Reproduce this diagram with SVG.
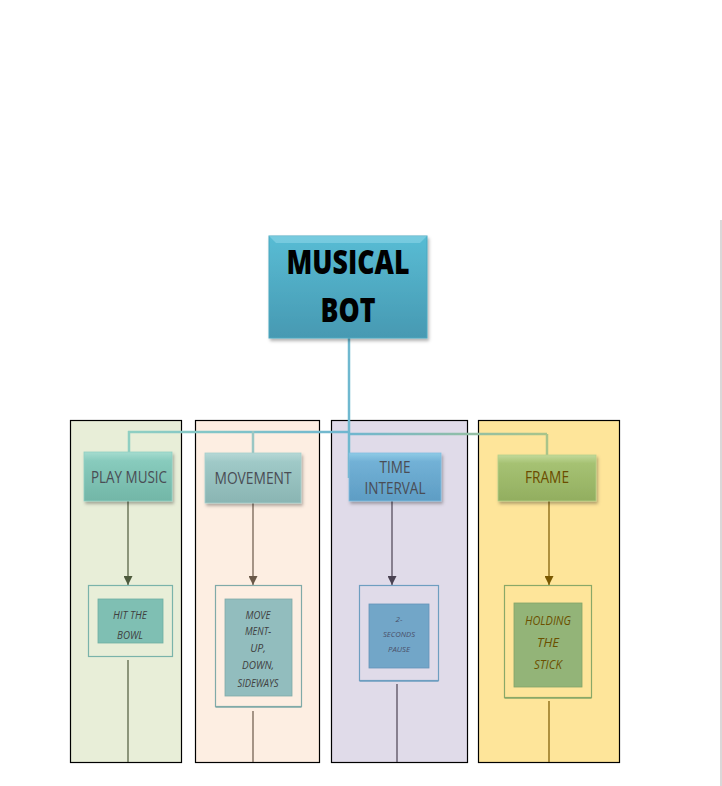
<svg xmlns="http://www.w3.org/2000/svg" width="722" height="786" viewBox="0 0 722 786">
<defs>
<linearGradient id="gMain" x1="0" y1="0" x2="0" y2="1"><stop offset="0" stop-color="#58bcd4"/><stop offset="1" stop-color="#4799b2"/></linearGradient>
<linearGradient id="gPlay" x1="0" y1="0" x2="0" y2="1"><stop offset="0" stop-color="#a6dccf"/><stop offset="0.18" stop-color="#88cbbd"/><stop offset="1" stop-color="#72b6a7"/></linearGradient>
<linearGradient id="gMove" x1="0" y1="0" x2="0" y2="1"><stop offset="0" stop-color="#b6d8d6"/><stop offset="0.18" stop-color="#9fc9c7"/><stop offset="1" stop-color="#8ab5b3"/></linearGradient>
<linearGradient id="gTime" x1="0" y1="0" x2="0" y2="1"><stop offset="0" stop-color="#8fcbe6"/><stop offset="0.18" stop-color="#72b1d6"/><stop offset="1" stop-color="#5e9dc4"/></linearGradient>
<linearGradient id="gFrame" x1="0" y1="0" x2="0" y2="1"><stop offset="0" stop-color="#c2d99a"/><stop offset="0.18" stop-color="#a6c273"/><stop offset="1" stop-color="#92ae60"/></linearGradient>
<linearGradient id="gH" x1="128" y1="0" x2="349" y2="0" gradientUnits="userSpaceOnUse"><stop offset="0" stop-color="#8fcfc2"/><stop offset="1" stop-color="#6fb6d0"/></linearGradient>
<linearGradient id="gH2" x1="349" y1="0" x2="547" y2="0" gradientUnits="userSpaceOnUse"><stop offset="0" stop-color="#6fb6d0"/><stop offset="1" stop-color="#a9c48a"/></linearGradient>
<filter id="sh" x="-10%" y="-10%" width="125%" height="130%"><feDropShadow dx="1.5" dy="2.5" stdDeviation="1.5" flood-color="#000" flood-opacity="0.3"/></filter>
<marker id="a1" viewBox="0 0 10 10" refX="10" refY="5" markerWidth="9" markerHeight="9" markerUnits="userSpaceOnUse" orient="auto"><path d="M0,0 L10,5 L0,10 z" fill="#4d5a3c"/></marker>
<marker id="a2" viewBox="0 0 10 10" refX="10" refY="5" markerWidth="9" markerHeight="9" markerUnits="userSpaceOnUse" orient="auto"><path d="M0,0 L10,5 L0,10 z" fill="#6a5848"/></marker>
<marker id="a3" viewBox="0 0 10 10" refX="10" refY="5" markerWidth="9" markerHeight="9" markerUnits="userSpaceOnUse" orient="auto"><path d="M0,0 L10,5 L0,10 z" fill="#4a4252"/></marker>
<marker id="a4" viewBox="0 0 10 10" refX="10" refY="5" markerWidth="9" markerHeight="9" markerUnits="userSpaceOnUse" orient="auto"><path d="M0,0 L10,5 L0,10 z" fill="#7a5800"/></marker>
</defs>
<style>
.col{stroke:#000;stroke-width:1.2}
.t2{font-family:"Open Sans","Liberation Sans",sans-serif;font-size:16px;fill:#4a4d55;text-anchor:middle}
.t3{font-family:"Open Sans","Liberation Sans",sans-serif;font-style:italic;fill:#404040;text-anchor:middle}
.main{font-family:"Open Sans","Liberation Sans",sans-serif;font-weight:800;font-size:34px;fill:#000;text-anchor:middle}
</style>
<rect width="722" height="786" fill="#fff"/>
<line x1="721" y1="220" x2="721" y2="786" stroke="#c0c0c0" stroke-width="1.2"/>

<g id="columns">
<rect class="col" x="70.5" y="420.5" width="111" height="342" fill="#e8eed8"/>
<rect class="col" x="195.5" y="420.5" width="124" height="342" fill="#fdeee2"/>
<rect class="col" x="331.5" y="420.5" width="136" height="342" fill="#e0dbe9"/>
<rect class="col" x="478.5" y="420.5" width="141" height="342" fill="#fee59a"/>
</g>

<g id="connectors" fill="none">
<path d="M128,432 H349" stroke="url(#gH)" stroke-width="2.5"/>
<path d="M349,434 H547" stroke="url(#gH2)" stroke-width="2.5"/>
<line x1="129" y1="431" x2="129" y2="453" stroke="#8fcfc2" stroke-width="2.5"/>
<line x1="253" y1="431" x2="253" y2="454" stroke="#9ac7c4" stroke-width="2.5"/>
<line x1="349" y1="338" x2="349" y2="478" stroke="#6fb8cf" stroke-width="2.5"/>
<line x1="547" y1="434" x2="547" y2="456" stroke="#a9c48a" stroke-width="2.5"/>
<line x1="128" y1="501" x2="128" y2="585" stroke="#4d5a3c" stroke-width="1.2" marker-end="url(#a1)"/>
<line x1="253" y1="503" x2="253" y2="585" stroke="#6a5848" stroke-width="1.2" marker-end="url(#a2)"/>
<line x1="392" y1="501" x2="392" y2="585" stroke="#4a4252" stroke-width="1.2" marker-end="url(#a3)"/>
<line x1="549" y1="501" x2="549" y2="585" stroke="#7a5800" stroke-width="1.2" marker-end="url(#a4)"/>
<line x1="128" y1="660" x2="128" y2="762" stroke="#4d5a3c" stroke-width="1.2"/>
<line x1="253" y1="711" x2="253" y2="762" stroke="#6a5848" stroke-width="1.2"/>
<line x1="397" y1="684" x2="397" y2="762" stroke="#4a4252" stroke-width="1.2"/>
<line x1="549" y1="701" x2="549" y2="762" stroke="#7a5800" stroke-width="1.2"/>
</g>

<g id="musical-bot">
<rect x="269" y="236" width="158" height="102" fill="url(#gMain)" stroke="#4aa8c0" stroke-width="1" filter="url(#sh)"/>
<path d="M269,236 H427 L420,243 H276 Z" fill="#84d2e4" opacity="0.7"/>
<text class="main" x="348" y="274" textLength="123" lengthAdjust="spacingAndGlyphs">MUSICAL</text>
<text class="main" x="348" y="322" textLength="55" lengthAdjust="spacingAndGlyphs">BOT</text>
</g>

<g id="play-music">
<rect x="84" y="452" width="88" height="49" fill="url(#gPlay)" stroke="#8fcfc2" stroke-width="0.8" filter="url(#sh)"/>
<text class="t2" x="129" y="483" textLength="76" lengthAdjust="spacingAndGlyphs">PLAY MUSIC</text>
</g>
<g id="movement">
<rect x="205" y="453" width="96" height="50" fill="url(#gMove)" stroke="#a6cfcc" stroke-width="0.8" filter="url(#sh)"/>
<text class="t2" x="253" y="484" textLength="77" lengthAdjust="spacingAndGlyphs">MOVEMENT</text>
</g>
<g id="time-interval">
<rect x="349" y="453" width="92" height="48" fill="url(#gTime)" stroke="#7fbfe0" stroke-width="0.8" filter="url(#sh)"/>
<text class="t2" x="395" y="473" textLength="31" lengthAdjust="spacingAndGlyphs">TIME</text>
<text class="t2" x="395" y="494" textLength="61" lengthAdjust="spacingAndGlyphs">INTERVAL</text>
</g>
<g id="frame">
<rect x="498" y="455" width="98" height="46" fill="url(#gFrame)" stroke="#b5cf8a" stroke-width="0.8" filter="url(#sh)"/>
<text class="t2" x="547" y="483" textLength="44" lengthAdjust="spacingAndGlyphs" style="fill:#6b4c00">FRAME</text>
</g>

<g id="hit-the-bowl">
<rect x="88.5" y="585.5" width="84" height="71" fill="#e8eed8" stroke="#7ab3aa" stroke-width="1.2"/>
<rect x="98" y="599" width="65" height="44" fill="#7fbfb3" stroke="#6eaea2" stroke-width="0.8"/>
<text class="t3" x="130" y="619" font-size="11" textLength="34" lengthAdjust="spacingAndGlyphs">HIT THE</text>
<text class="t3" x="130" y="639" font-size="11" textLength="26" lengthAdjust="spacingAndGlyphs">BOWL</text>
</g>
<g id="movement-detail">
<rect x="215.5" y="585.5" width="86" height="121" fill="#fdeee2" stroke="#80aaa8" stroke-width="1.2"/>
<line x1="215.5" y1="707" x2="301.5" y2="707" stroke="#80aaa8" stroke-width="1.5"/>
<rect x="225" y="599" width="67" height="97" fill="#92bdbe" stroke="#80aaa8" stroke-width="0.8"/>
<text class="t3" x="258" y="619" font-size="10.5" textLength="25" lengthAdjust="spacingAndGlyphs">MOVE</text>
<text class="t3" x="258" y="635" font-size="10.5" textLength="26" lengthAdjust="spacingAndGlyphs">MENT-</text>
<text class="t3" x="258" y="652" font-size="10.5">UP,</text>
<text class="t3" x="258" y="669" font-size="10.5" textLength="32" lengthAdjust="spacingAndGlyphs">DOWN,</text>
<text class="t3" x="258" y="687" font-size="10.5" textLength="41" lengthAdjust="spacingAndGlyphs">SIDEWAYS</text>
</g>
<g id="pause">
<rect x="359.5" y="585.5" width="79" height="95" fill="#e0dbe9" stroke="#6e9ec0" stroke-width="1.2"/>
<line x1="359.5" y1="681" x2="438.5" y2="681" stroke="#6e9ec0" stroke-width="1.5"/>
<rect x="369" y="604" width="60" height="64" fill="#72a6c8" stroke="#6495b8" stroke-width="0.8"/>
<text class="t3" x="399" y="622" font-size="8" style="fill:#4a5068">2-</text>
<text class="t3" x="399" y="637" font-size="8" textLength="32" lengthAdjust="spacingAndGlyphs" style="fill:#4a5068">SECONDS</text>
<text class="t3" x="399" y="652" font-size="8" textLength="22" lengthAdjust="spacingAndGlyphs" style="fill:#4a5068">PAUSE</text>
</g>
<g id="holding-the-stick">
<rect x="504.5" y="585.5" width="87" height="112" fill="#fee59a" stroke="#8aa868" stroke-width="1.2"/>
<line x1="504.5" y1="698" x2="591.5" y2="698" stroke="#8aa868" stroke-width="1.5"/>
<rect x="514" y="603" width="68" height="84" fill="#93b478" stroke="#82a468" stroke-width="0.8"/>
<text class="t3" x="548" y="625" font-size="13" textLength="46" lengthAdjust="spacingAndGlyphs" style="fill:#6b5000">HOLDING</text>
<text class="t3" x="548" y="647" font-size="13" textLength="22" lengthAdjust="spacingAndGlyphs" style="fill:#6b5000">THE</text>
<text class="t3" x="548" y="669" font-size="13" textLength="28" lengthAdjust="spacingAndGlyphs" style="fill:#6b5000">STICK</text>
</g>
</svg>
